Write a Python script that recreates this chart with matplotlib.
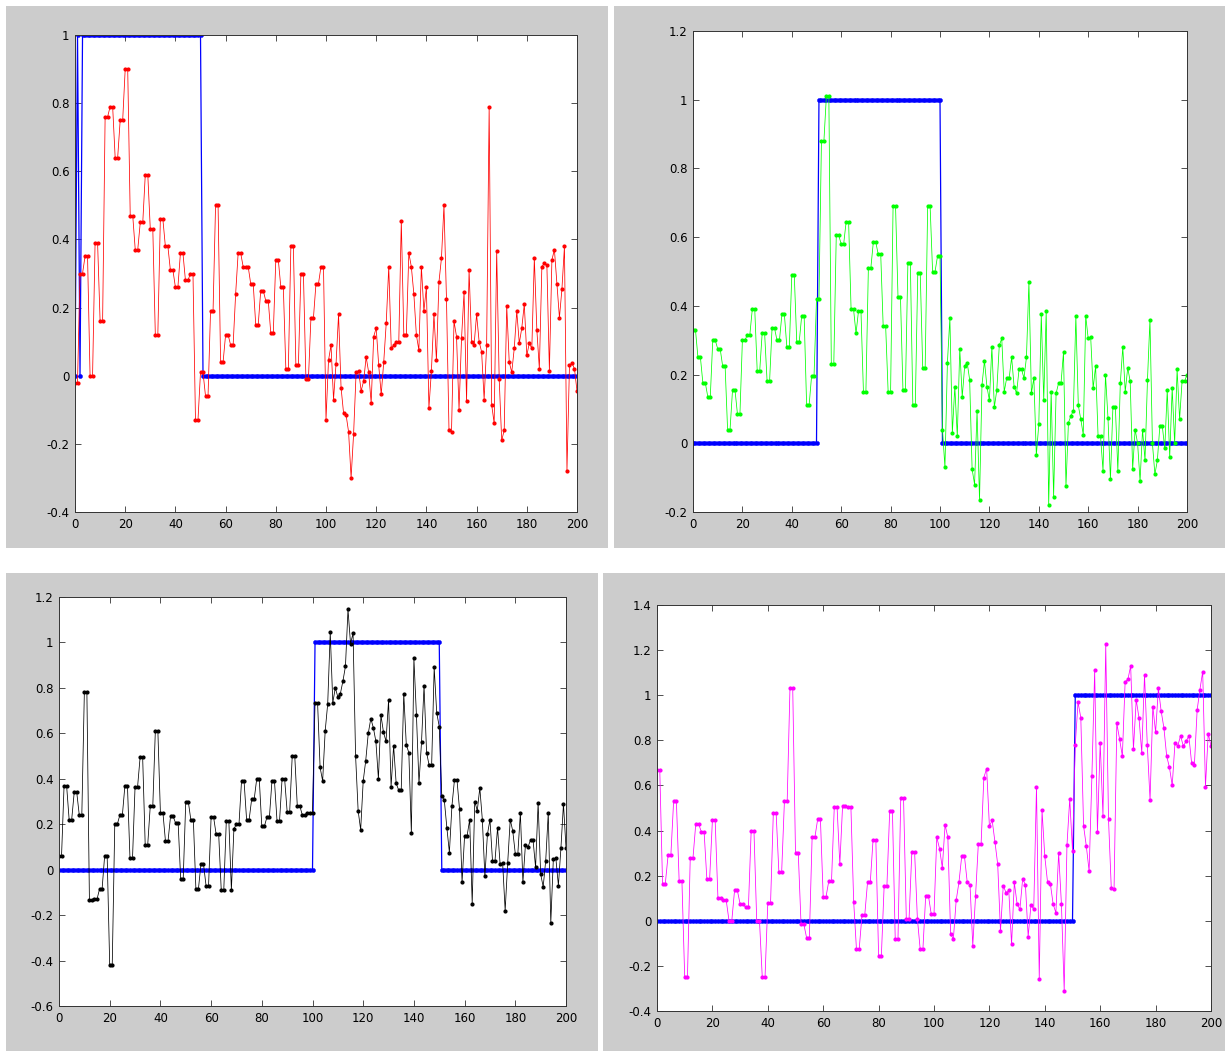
import numpy as np
import matplotlib
matplotlib.use("Agg")
import matplotlib.pyplot as plt
from matplotlib.patches import Rectangle

# ---- data (x = 0..200) ----
red_vals = [
    -0.02, -0.02, 0.30, 0.30, 0.35, 0.35, 0.00, 0.00, 0.39, 0.39,
    0.16, 0.16, 0.76, 0.76, 0.79, 0.79, 0.64, 0.64, 0.75, 0.75,
    0.90, 0.90, 0.47, 0.47, 0.37, 0.37, 0.45, 0.45, 0.59, 0.59,
    0.43, 0.43, 0.12, 0.12, 0.46, 0.46, 0.38, 0.38, 0.31, 0.31,
    0.26, 0.26, 0.36, 0.36, 0.28, 0.28, 0.30, 0.30, -0.13, -0.13,
    0.01, 0.01, -0.06, -0.06, 0.19, 0.19, 0.50, 0.50, 0.04, 0.04,
    0.12, 0.12, 0.09, 0.09, 0.24, 0.36, 0.36, 0.32, 0.32, 0.32,
    0.27, 0.27, 0.15, 0.15, 0.25, 0.25, 0.22, 0.22, 0.125, 0.125,
    0.34, 0.34, 0.26, 0.26, 0.02, 0.02, 0.38, 0.38, 0.03, 0.03,
    0.30, 0.30, -0.01, -0.01, 0.17, 0.17, 0.27, 0.27, 0.32, 0.32,
    -0.13, 0.045, 0.09, -0.07, 0.035, 0.18, -0.035, -0.11, -0.115, -0.165,
    -0.30, -0.17, 0.01, 0.015, -0.045, -0.015, 0.055, 0.01, -0.08, 0.115,
    0.14, 0.03, -0.055, 0.04, 0.155, 0.32, 0.08, 0.09, 0.10, 0.10,
    0.455, 0.12, 0.12, 0.36, 0.32, 0.24, 0.12, 0.075, 0.32, 0.19,
    0.26, -0.095, 0.015, 0.18, 0.045, 0.275, 0.345, 0.50, 0.225, -0.16,
    -0.165, 0.16, 0.115, -0.10, 0.11, 0.245, -0.075, 0.31, 0.10, 0.09,
    0.18, 0.10, 0.07, -0.07, 0.09, 0.79, -0.085, -0.14, 0.365, -0.01,
    -0.19, -0.16, 0.205, 0.04, 0.01, 0.08, 0.19, 0.095, 0.14, 0.21,
    0.06, 0.095, 0.08, 0.345, 0.135, 0.02, 0.32, 0.33, 0.325, 0.015,
    0.34, 0.37, 0.27, 0.17, 0.255, 0.38, -0.28, 0.03, 0.037, 0.02,
    -0.045,
]
blue_1 = [0, 1, 0, 1] + [1] * 47 + [0] * 150

green_vals = [
    0.33, 0.33, 0.25, 0.25, 0.175, 0.175, 0.135, 0.135, 0.30, 0.30,
    0.275, 0.275, 0.225, 0.225, 0.04, 0.04, 0.155, 0.155, 0.085, 0.085,
    0.30, 0.30, 0.315, 0.315, 0.39, 0.39, 0.21, 0.21, 0.32, 0.32,
    0.18, 0.18, 0.335, 0.335, 0.30, 0.30, 0.375, 0.375, 0.28, 0.28,
    0.49, 0.49, 0.295, 0.295, 0.37, 0.37, 0.11, 0.11, 0.195, 0.195,
    0.42, 0.42, 0.88, 0.88, 1.01, 1.01, 0.23, 0.23, 0.605, 0.605,
    0.58, 0.58, 0.645, 0.645, 0.39, 0.39, 0.32, 0.385, 0.385, 0.15,
    0.15, 0.51, 0.51, 0.585, 0.585, 0.55, 0.55, 0.34, 0.34, 0.15,
    0.15, 0.69, 0.69, 0.425, 0.425, 0.155, 0.155, 0.525, 0.525, 0.11,
    0.11, 0.495, 0.495, 0.22, 0.22, 0.69, 0.69, 0.50, 0.50, 0.545,
    0.545, 0.04, -0.07, 0.235, 0.365, 0.03, 0.165, 0.02, 0.275, 0.135,
    0.225, 0.235, 0.185, -0.075, -0.12, 0.095, -0.165, 0.17, 0.24, 0.165,
    0.125, 0.28, 0.105, 0.155, 0.285, 0.305, 0.15, 0.19, 0.19, 0.25,
    0.165, 0.145, 0.215, 0.215, 0.19, 0.25, 0.47, 0.145, 0.19, -0.035,
    0.055, 0.375, 0.125, 0.385, -0.18, 0.15, -0.155, 0.145, 0.175, 0.175,
    0.265, -0.125, 0.06, 0.08, 0.095, 0.37, 0.11, 0.07, 0.025, 0.37,
    0.305, 0.31, 0.16, 0.225, 0.02, 0.02, -0.08, 0.20, 0.075, -0.105,
    0.105, 0.105, -0.08, 0.175, 0.28, 0.15, 0.22, 0.18, -0.075, 0.04,
    0.0, -0.11, 0.04, -0.05, 0.185, 0.36, 0.0, -0.09, -0.05, 0.05,
    0.05, -0.015, 0.155, -0.04, 0.16, 0.0, 0.215, 0.07, 0.18, 0.18,
    0.20,
]
blue_2 = [0] * 51 + [1] * 50 + [0] * 100

black_vals = [
    0.06, 0.06, 0.37, 0.37, 0.22, 0.22, 0.34, 0.34, 0.24, 0.24,
    0.78, 0.78, -0.135, -0.135, -0.13, -0.13, -0.085, -0.085, 0.06, 0.06,
    -0.42, -0.42, 0.20, 0.20, 0.24, 0.24, 0.37, 0.37, 0.05, 0.05,
    0.365, 0.365, 0.495, 0.495, 0.11, 0.11, 0.28, 0.28, 0.61, 0.61,
    0.25, 0.25, 0.125, 0.125, 0.235, 0.235, 0.205, 0.205, -0.04, -0.04,
    0.30, 0.30, 0.22, 0.22, -0.085, -0.085, 0.025, 0.025, -0.07, -0.07,
    0.23, 0.23, 0.155, 0.155, -0.09, -0.09, 0.215, 0.215, -0.09, 0.18,
    0.20, 0.20, 0.39, 0.39, 0.22, 0.22, 0.31, 0.31, 0.40, 0.40,
    0.19, 0.19, 0.23, 0.23, 0.39, 0.39, 0.215, 0.215, 0.40, 0.40,
    0.255, 0.255, 0.50, 0.50, 0.28, 0.28, 0.24, 0.24, 0.25, 0.25,
    0.25, 0.735, 0.735, 0.45, 0.39, 0.61, 0.73, 1.045, 0.735, 0.80,
    0.76, 0.775, 0.83, 0.895, 1.145, 0.995, 1.04, 0.50, 0.26, 0.175,
    0.39, 0.48, 0.60, 0.665, 0.625, 0.565, 0.40, 0.68, 0.605, 0.565,
    0.745, 0.365, 0.545, 0.38, 0.35, 0.35, 0.775, 0.55, 0.515, 0.16,
    0.93, 0.68, 0.38, 0.56, 0.81, 0.515, 0.46, 0.46, 0.89, 0.69,
    0.63, 0.325, 0.305, 0.185, 0.075, 0.28, 0.395, 0.395, 0.265, -0.055,
    0.15, 0.15, 0.22, -0.15, 0.30, 0.26, 0.36, 0.22, -0.03, 0.155,
    0.22, 0.04, 0.04, 0.185, 0.025, 0.03, -0.18, 0.03, 0.22, 0.17,
    0.07, 0.07, 0.25, -0.055, 0.11, 0.10, 0.13, 0.13, 0.01, 0.295,
    -0.02, -0.075, 0.04, 0.25, -0.235, 0.045, 0.05, -0.07, 0.095, 0.29,
    0.095,
]
blue_3 = [0] * 101 + [1] * 50 + [0] * 50

magenta_vals = [
    0.67, 0.67, 0.165, 0.165, 0.29, 0.29, 0.53, 0.53, 0.175, 0.175,
    -0.25, -0.25, 0.28, 0.28, 0.43, 0.43, 0.395, 0.395, 0.185, 0.185,
    0.445, 0.445, 0.10, 0.10, 0.09, 0.09, 0.0, 0.0, 0.135, 0.135,
    0.075, 0.075, 0.06, 0.06, 0.40, 0.40, 0.0, 0.0, -0.25, -0.25,
    0.08, 0.08, 0.48, 0.48, 0.215, 0.215, 0.53, 0.53, 1.03, 1.03,
    0.30, 0.30, -0.015, -0.015, -0.075, -0.075, 0.37, 0.37, 0.45, 0.45,
    0.105, 0.105, 0.175, 0.175, 0.505, 0.505, 0.25, 0.51, 0.51, 0.505,
    0.505, 0.085, -0.125, -0.125, 0.025, 0.025, 0.17, 0.17, 0.36, 0.36,
    -0.155, -0.155, 0.155, 0.155, 0.485, 0.485, -0.08, -0.08, 0.545, 0.545,
    0.01, 0.01, 0.305, 0.305, 0.01, -0.125, -0.125, 0.11, 0.11, 0.03,
    0.03, 0.37, 0.32, 0.235, 0.425, 0.37, -0.06, -0.08, 0.09, 0.17,
    0.285, 0.285, 0.17, 0.16, -0.11, 0.11, 0.34, 0.34, 0.635, 0.675,
    0.42, 0.445, 0.35, 0.25, -0.045, 0.155, 0.125, 0.135, -0.105, 0.17,
    0.075, 0.05, 0.185, 0.16, -0.07, 0.07, 0.05, 0.595, -0.26, 0.49,
    0.285, 0.17, 0.165, 0.075, 0.035, 0.30, 0.075, -0.31, 0.335, 0.54,
    0.31, 0.78, 0.97, 0.90, 0.42, 0.33, 0.22, 0.64, 1.11, 0.395,
    0.79, 0.465, 1.225, 0.45, 0.145, 0.14, 0.875, 0.805, 0.73, 1.06,
    1.07, 1.13, 0.76, 0.98, 0.90, 0.745, 1.09, 0.78, 0.535, 0.95,
    0.835, 1.03, 0.93, 0.855, 0.73, 0.68, 0.60, 0.79, 0.775, 0.82,
    0.775, 0.795, 0.82, 0.70, 0.69, 0.935, 1.025, 1.105, 0.595, 0.83,
    0.775,
]
blue_4 = [0] * 151 + [1] * 50

W, H = 1225, 1051
GREY = "#cccccc"


def px_box(x0, y0, x1, y1):
    # pixel box (top-left origin) -> figure fraction [l, b, w, h]
    return [x0 / W, 1 - y1 / H, (x1 - x0) / W, (y1 - y0) / H]


def style_axes(ax, ylim, yticks):
    ax.set_xlim(0, 200)
    ax.set_ylim(*ylim)
    ax.set_xticks(range(0, 201, 20))
    ax.set_yticks(yticks)
    ax.set_yticklabels(["%g" % round(t, 1) for t in yticks])
    ax.tick_params(direction="in", top=True, right=True, length=4,
                   width=0.6, labelsize=8.5, pad=4, color="#333333")
    for s in ax.spines.values():
        s.set_linewidth(0.7)
        s.set_color("#333333")
    ax.set_facecolor("white")


def draw_panel(fig, box, noisy, step, color, ylim, yticks):
    ax = fig.add_axes(px_box(*box))
    ax.set_zorder(2)
    x = np.arange(len(step))
    ax.plot(x, step, "-", color="blue", lw=0.9, marker=".", ms=6,
            markeredgewidth=0.3)
    xn = np.arange(len(noisy))
    ax.plot(xn, noisy, "-", color=color, lw=0.55, marker=".", ms=4)
    style_axes(ax, ylim, yticks)
    return ax


fig = plt.figure(figsize=(W / 100, H / 100), dpi=100, facecolor="white")

# grey screenshot backgrounds (drawn underneath the axes)
for (x0, y0, x1, y1) in [(6, 6, 608, 548), (614, 6, 1225, 548),
                         (6, 573, 598, 1051), (603, 573, 1225, 1051)]:
    fig.patches.append(Rectangle((x0 / W, 1 - y1 / H), (x1 - x0) / W,
                                 (y1 - y0) / H, transform=fig.transFigure,
                                 facecolor=GREY, edgecolor="none", zorder=-5))

draw_panel(fig, (75, 35, 577, 512), red_vals, blue_1, "red",
           (-0.4, 1.0), np.arange(-0.4, 1.01, 0.2))
draw_panel(fig, (693, 31, 1187, 512), green_vals, blue_2, "#00ff00",
           (-0.2, 1.2), np.arange(-0.2, 1.21, 0.2))
draw_panel(fig, (59, 597, 566, 1006), black_vals, blue_3, "black",
           (-0.6, 1.2), np.arange(-0.6, 1.21, 0.2))
draw_panel(fig, (657, 605, 1211, 1011), magenta_vals, blue_4, "magenta",
           (-0.4, 1.4), np.arange(-0.4, 1.41, 0.2))

fig.savefig("out.png", dpi=100, facecolor="white")
